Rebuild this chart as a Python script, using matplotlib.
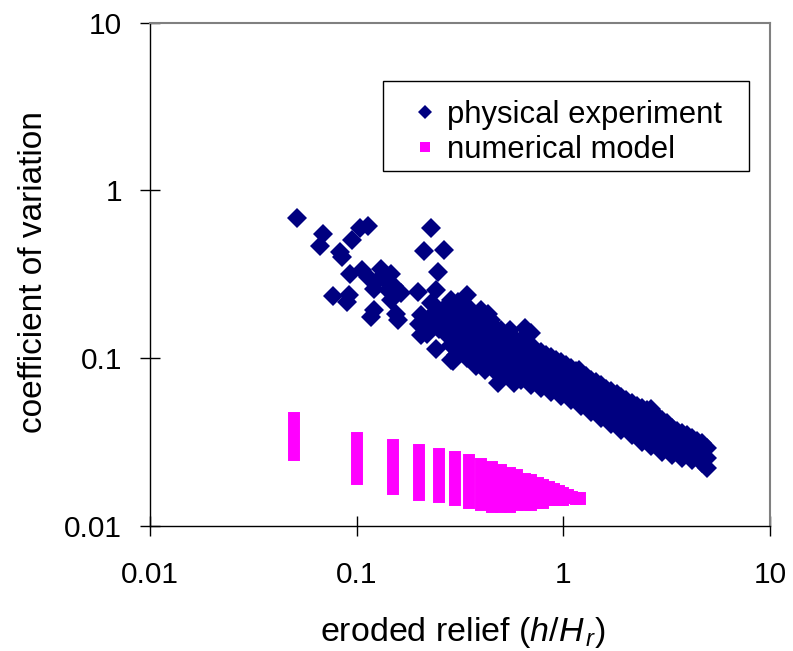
import matplotlib
matplotlib.use("Agg")
import matplotlib.pyplot as plt
from matplotlib.lines import Line2D
from matplotlib.patches import Rectangle
from matplotlib.ticker import NullLocator

plt.rcParams['font.family'] = ['Liberation Sans', 'DejaVu Sans']
plt.rcParams['mathtext.fontset'] = 'custom'
plt.rcParams['mathtext.rm'] = 'Liberation Sans'
plt.rcParams['mathtext.it'] = 'Liberation Sans:italic'

# physical experiment: scattered points at small relief
phys_x_sparse = [0.0515, 0.0689, 0.0661, 0.1035, 0.1135, 0.0953, 0.083, 0.0853,
                 0.2286, 0.211, 0.2655, 0.248, 0.0927, 0.1067, 0.1135, 0.131,
                 0.146, 0.121, 0.141, 0.164, 0.146, 0.0771, 0.0918, 0.0902,
                 0.121, 0.117, 0.1545, 0.158, 0.1987, 0.2415, 0.2047, 0.237,
                 0.251, 0.125, 0.136, 0.152, 0.200, 0.215, 0.230, 0.250,
                 0.270, 0.220, 0.260, 0.280, 0.342, 0.310, 0.400, 0.430,
                 0.550, 0.650, 0.700, 0.204, 0.275, 0.229, 0.237, 0.300,
                 0.242, 0.292, 0.342, 0.482, 0.580, 1.06, 1.19, 2.67]
phys_y_sparse = [0.684, 0.547, 0.466, 0.597, 0.613, 0.509, 0.430, 0.401,
                 0.597, 0.436, 0.440, 0.327, 0.319, 0.334, 0.305, 0.342,
                 0.319, 0.260, 0.254, 0.246, 0.221, 0.235, 0.237, 0.216,
                 0.193, 0.175, 0.1845, 0.168, 0.248, 0.254, 0.180, 0.2065,
                 0.180, 0.290, 0.300, 0.270, 0.160, 0.150, 0.165, 0.150,
                 0.160, 0.140, 0.190, 0.210, 0.2385, 0.217, 0.193, 0.184,
                 0.147, 0.151, 0.142, 0.137, 0.137, 0.212, 0.187, 0.187,
                 0.114, 0.0964, 0.100, 0.0707, 0.0707, 0.0865, 0.0849, 0.0497]

# physical experiment: dense band, read column by column
band_x = [0.286, 0.320, 0.357, 0.400, 0.447, 0.500, 0.560, 0.625, 0.700, 0.782,
          0.875, 0.978, 1.094, 1.222, 1.367, 1.528, 1.710, 1.91, 2.14, 2.39,
          2.67, 2.99, 3.34, 3.74, 4.18, 4.68, 4.94]
band_y = [[0.221, 0.180, 0.147, 0.1195, 0.0973],
          [0.207, 0.168, 0.137, 0.1116],
          [0.193, 0.157, 0.128, 0.104],
          [0.180, 0.147, 0.1195, 0.0973],
          [0.168, 0.137, 0.1116, 0.0908],
          [0.147, 0.1195, 0.0973, 0.0793],
          [0.137, 0.115, 0.0947, 0.0761],
          [0.128, 0.1086, 0.0908, 0.074],
          [0.1195, 0.100, 0.0826, 0.069],
          [0.1086, 0.0921, 0.0782, 0.0663],
          [0.1014, 0.0861, 0.074, 0.0628],
          [0.0947, 0.0815, 0.070, 0.0594],
          [0.0871, 0.0761, 0.0663, 0.0562],
          [0.0804, 0.070, 0.0611, 0.0518],
          [0.074, 0.0645, 0.0562, 0.0477],
          [0.069, 0.0594, 0.0511, 0.044],
          [0.0637, 0.0547, 0.0471, 0.0405],
          [0.0586, 0.0504, 0.044, 0.0373],
          [0.0539, 0.0471, 0.041, 0.0348],
          [0.0504, 0.044, 0.0383, 0.0316],
          [0.0471, 0.041, 0.0358, 0.0299],
          [0.0428, 0.0373, 0.0325, 0.0275],
          [0.0383, 0.0339, 0.0299, 0.0265],
          [0.0358, 0.0316, 0.0283, 0.0254],
          [0.0334, 0.0299, 0.0268, 0.0247],
          [0.0312, 0.0283, 0.0261, 0.0237],
          [0.0291, 0.0254, 0.0221]]

# in-between columns of the band
band2_x = [0.302, 0.338, 0.378, 0.42, 0.47, 0.529, 0.592, 0.662, 0.740, 0.828,
           0.925, 1.035, 1.157, 1.293, 1.445, 1.617, 1.81, 2.02, 2.26, 2.53,
           2.83, 3.16, 3.54, 3.95, 4.42]
band2_y = [[0.195, 0.16, 0.13, 0.105],
           [0.18, 0.148, 0.12],
           [0.17, 0.14, 0.113, 0.09],
           [0.158, 0.13, 0.106, 0.085],
           [0.15, 0.123, 0.1, 0.083],
           [0.128, 0.106, 0.087],
           [0.125, 0.103, 0.085],
           [0.118, 0.099, 0.082],
           [0.111, 0.093, 0.077],
           [0.104, 0.088, 0.073],
           [0.098, 0.083, 0.069],
           [0.091, 0.078, 0.066],
           [0.084, 0.073, 0.062],
           [0.078, 0.067, 0.058],
           [0.072, 0.062, 0.053],
           [0.066, 0.057, 0.050],
           [0.061, 0.053, 0.046],
           [0.056, 0.049, 0.043],
           [0.052, 0.046, 0.040],
           [0.049, 0.043, 0.037],
           [0.045, 0.039, 0.034],
           [0.041, 0.036, 0.031],
           [0.037, 0.033, 0.029],
           [0.035, 0.031, 0.027],
           [0.032, 0.029, 0.026]]

# numerical model: range of values at each relief
num_x = [0.05, 0.1, 0.15, 0.2, 0.25, 0.3, 0.35, 0.4, 0.45, 0.5, 0.55, 0.6,
         0.65, 0.7, 0.75, 0.8, 0.85, 0.9, 0.95, 1.0, 1.05, 1.1, 1.15, 1.2]
num_hi = [0.0438, 0.0333, 0.0305, 0.0283, 0.0267, 0.0259, 0.0246, 0.0233,
          0.0225, 0.0215, 0.0208, 0.0201, 0.0191, 0.0187, 0.0181, 0.0176,
          0.0171, 0.0167, 0.0162, 0.0157, 0.0153, 0.0149, 0.0147, 0.0146]
num_lo = [0.0266, 0.0191, 0.0166, 0.0154, 0.0149, 0.0142, 0.0137, 0.0134,
          0.0130, 0.0130, 0.0130, 0.0134, 0.0134, 0.0134, 0.0138, 0.0138,
          0.0142, 0.0142, 0.0142, 0.0142, 0.0146, 0.0146, 0.0145, 0.0145]

xticks = [0.01, 0.1, 1, 10]
xticklabels = ['0.01', '0.1', '1', '10']
yticks = [0.01, 0.1, 1, 10]
yticklabels = ['0.01', '0.1', '1', '10']

navy = '#000080'
magenta = '#ff00ff'

px = list(phys_x_sparse)
py = list(phys_y_sparse)
for xs, ys in ((band_x, band_y), (band2_x, band2_y)):
    for x, col in zip(xs, ys):
        px += [x] * len(col)
        py += col

fig = plt.figure(figsize=(7.93, 6.51), dpi=100)
ax = fig.add_axes([150 / 793, 1 - 526 / 651, 620 / 793, 503.3 / 651])
ax.set_xscale('log')
ax.set_yscale('log')

ax.plot(px, py, 'D', color=navy, ms=10, mew=0, ls='none')
ax.vlines(num_x, num_lo, num_hi, colors=magenta, linewidth=8.6,
          capstyle='projecting')

ax.set_xlim(0.01, 10)
ax.set_ylim(0.01, 10)
ax.set_xticks(xticks)
ax.set_xticklabels(xticklabels)
ax.set_yticks(yticks)
ax.set_yticklabels(yticklabels)
ax.xaxis.set_minor_locator(NullLocator())
ax.yaxis.set_minor_locator(NullLocator())
ax.tick_params(which='major', direction='inout', length=15, width=1,
               labelsize=21.5, color='black')
ax.tick_params(axis='x', pad=18)
ax.tick_params(axis='y', pad=12.5)

for s in ('left', 'bottom'):
    ax.spines[s].set_color('black')
    ax.spines[s].set_linewidth(1.0)
for s in ('top', 'right'):
    ax.spines[s].set_color('#808080')
    ax.spines[s].set_linewidth(1.5)

ax.set_ylabel('coefficient of variation', fontsize=24)
ax.yaxis.set_label_coords(-0.163, 0.505)
ax.set_xlabel(r'eroded relief ($h/H_{\,r}$)', fontsize=24.5)
ax.xaxis.set_label_coords(0.505, -0.176)

handles = [Line2D([], [], marker='D', color=navy, ls='none', ms=7.2, mew=0),
           Line2D([], [], marker='s', color=magenta, ls='none', ms=7, mew=0)]
leg = fig.legend(handles, ['physical experiment', 'numerical model'],
                 loc='upper left', bbox_to_anchor=(409.7 / 793, 1 - 100 / 651),
                 frameon=False, fontsize=22.3, borderpad=0, borderaxespad=0,
                 handlelength=1.0, handletextpad=0.19, labelspacing=0.15)
fig.patches.append(Rectangle((383 / 793, 1 - 171 / 651), 366 / 793, 90 / 651,
                             transform=fig.transFigure, fill=False,
                             edgecolor='black', linewidth=1.0))

fig.savefig('out.png', dpi=100)
